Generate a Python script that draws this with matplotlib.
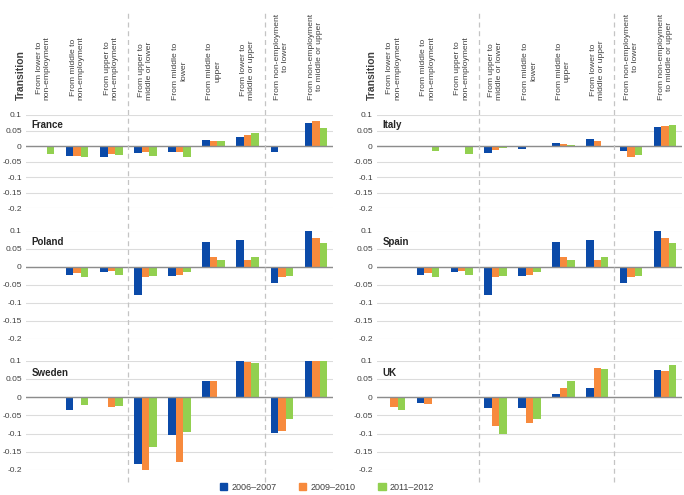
import numpy as np
import matplotlib.pyplot as plt
from matplotlib.lines import Line2D
from matplotlib.patches import Patch
from matplotlib.transforms import blended_transform_factory

plt.rcParams['font.family'] = ['Liberation Sans', 'DejaVu Sans']

transitions = ['From lower to\nnon-employment', 'From middle to\nnon-employment',
               'From upper to\nnon-employment', 'From upper to\nmiddle or lower',
               'From middle to\nlower', 'From middle to\nupper',
               'From lower to\nmiddle or upper', 'From non-employment\nto lower',
               'From non-employment\nto middle or upper']
periods = ['2006\u20132007', '2009\u20132010', '2011\u20132012']
colors = ['#0B4AA8', '#F78A3D', '#92D050']

# one list per period: 2006-2007, 2009-2010, 2011-2012
france = [[0, -0.030, -0.036, -0.022, -0.019, 0.019, 0.031, -0.018, 0.074],
          [0, -0.030, -0.025, -0.019, -0.018, 0.017, 0.035, 0, 0.080],
          [-0.025, -0.035, -0.028, -0.031, -0.034, 0.016, 0.041, 0, 0.058]]
italy = [[0, 0, 0, -0.021, -0.008, 0.010, 0.024, -0.017, 0.061],
         [0, 0, 0, -0.013, 0, 0.006, 0.018, -0.036, 0.066],
         [0, -0.015, -0.025, -0.006, 0, 0.003, 0, -0.029, 0.068]]
poland = [[0, -0.022, -0.016, -0.078, -0.027, 0.068, 0.073, -0.045, 0.100],
          [0, -0.017, -0.012, -0.029, -0.022, 0.026, 0.019, -0.029, 0.079],
          [0, -0.028, -0.023, -0.026, -0.015, 0.019, 0.026, -0.026, 0.066]]
spain = [[0, -0.022, -0.016, -0.078, -0.027, 0.068, 0.073, -0.045, 0.100],
         [0, -0.017, -0.012, -0.029, -0.022, 0.026, 0.019, -0.029, 0.079],
         [0, -0.028, -0.023, -0.026, -0.015, 0.019, 0.026, -0.026, 0.066]]
sweden = [[0, -0.035, 0, -0.184, -0.105, 0.044, 0.100, -0.098, 0.100],
          [0, 0, -0.028, -0.200, -0.177, 0.045, 0.095, -0.093, 0.100],
          [0, -0.021, -0.025, -0.138, -0.097, 0, 0.092, -0.059, 0.100]]
uk = [[0, -0.017, 0, -0.030, -0.030, 0.009, 0.026, 0, 0.075],
      [-0.028, -0.019, 0, -0.079, -0.070, 0.025, 0.079, 0, 0.072],
      [-0.036, 0, 0, -0.102, -0.060, 0.045, 0.077, 0, 0.089]]

countries = [['France', france], ['Italy', italy],
             ['Poland', poland], ['Spain', spain],
             ['Sweden', sweden], ['UK', uk]]

yticks = [-0.2, -0.15, -0.1, -0.05, 0, 0.05, 0.1]
ytick_labels = ['-0.2', '-0.15', '-0.1', '-0.05', '0', '0.05', '0.1']

W, H = 684, 495
fig = plt.figure(figsize=(W / 100, H / 100), dpi=100)

# pixel layout: (left, width) per column, (top, bottom) per row
cols = [(26, 307), (377, 305)]
rows = [(115, 208.5), (230.5, 339), (360.5, 470)]

text_color = '#404040'
x = np.arange(len(transitions))
w = 0.22
axes = []
for i, (name, values) in enumerate(countries):
    r, c = divmod(i, 2)
    left, width = cols[c]
    top, bottom = rows[r]
    ax = fig.add_axes([left / W, 1 - bottom / H, width / W, (bottom - top) / H])
    for k in range(3):
        ax.bar(x + (k - 1) * w, values[k], width=w, color=colors[k], zorder=3)
    ax.set_xlim(-0.5, len(transitions) - 0.5)
    ax.set_ylim(-0.2, 0.1)
    ax.set_yticks(yticks)
    ax.set_yticklabels(ytick_labels, fontsize=6, color=text_color)
    ax.set_xticks([])
    ax.tick_params(axis='y', length=0, pad=3)
    ax.yaxis.grid(True, color='#dcdcdc', lw=0.8, zorder=0)
    ax.axhline(0, color='#8c8c8c', lw=1, zorder=4)
    for s in ax.spines.values():
        s.set_visible(False)
    ax.text(0.018, 0.89, name, transform=ax.transAxes, fontsize=7,
            fontweight='bold', color='#262626', va='center')
    axes.append(ax)

# header labels and group separators per column
for c in range(2):
    ax = axes[c]
    for j, lab in enumerate(transitions):
        ax.annotate(lab, xy=(x[j], 1), xycoords=('data', 'axes fraction'),
                    xytext=(0, 11), textcoords='offset points', rotation=90,
                    ha='center', va='bottom', multialignment='center',
                    fontsize=6.1, color=text_color, annotation_clip=False)
    ax.annotate('Transition', xy=(0, 1), xycoords='axes fraction',
                xytext=(-4, 11), textcoords='offset points', rotation=90,
                ha='center', va='bottom', fontsize=7.5, fontweight='bold',
                color=text_color, annotation_clip=False)
    trans = blended_transform_factory(ax.transData, fig.transFigure)
    for b in [2.5, 6.5]:
        fig.add_artist(Line2D([b, b], [1 - 482 / H, 1 - 10 / H], transform=trans,
                              color='#c4c4c4', lw=0.9, ls=(0, (4, 3))))

handles = [Patch(color=colors[k], label=periods[k]) for k in range(3)]
fig.legend(handles=handles, loc='center', bbox_to_anchor=(327 / W, 8 / H), ncol=3,
           frameon=False, fontsize=6.5, handlelength=0.8, handleheight=0.8,
           columnspacing=2.5, handletextpad=0.5, labelcolor=text_color)

fig.savefig('out.png', dpi=100)
